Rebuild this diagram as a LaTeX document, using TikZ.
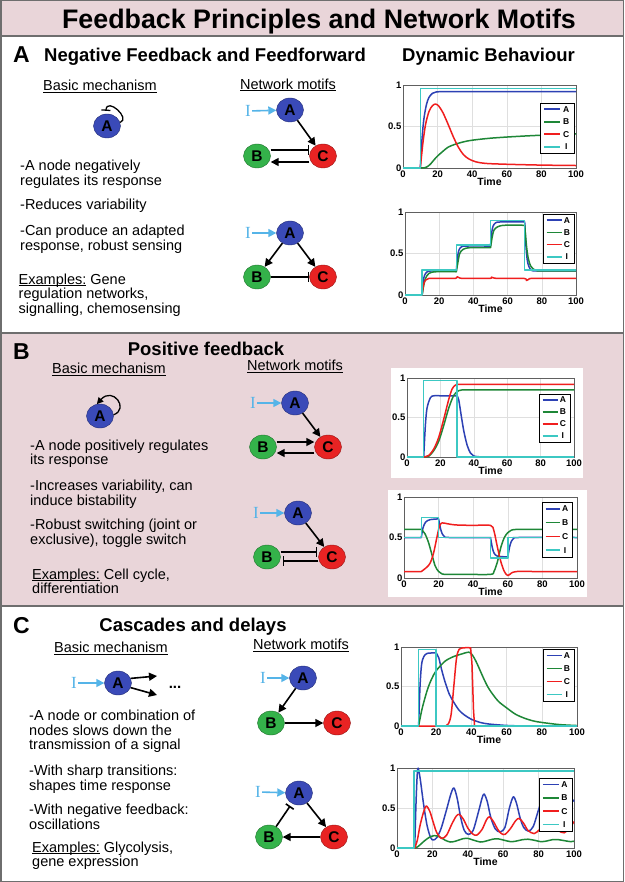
\documentclass[tikz,border=0pt]{standalone}
\usepackage{fontspec}
\setmainfont{Liberation Sans}
\newfontfamily\seriffont{Liberation Serif}
\usetikzlibrary{arrows.meta,shapes.geometric}
\definecolor{pinkbg}{RGB}{233,213,217}
\definecolor{linegray}{RGB}{110,110,110}
\definecolor{nodeA}{RGB}{58,74,184}
\definecolor{nodeB}{RGB}{52,178,74}
\definecolor{nodeC}{RGB}{232,35,35}
\definecolor{inblue}{RGB}{85,180,232}
\definecolor{pA}{RGB}{45,65,180}
\definecolor{pB}{RGB}{30,135,55}
\definecolor{pC}{RGB}{240,30,30}
\definecolor{pI}{RGB}{60,200,195}
\newcommand\myul[1]{\setbox0\hbox{#1}\rlap{\rule[-1.8pt]{\wd0}{0.8pt}}\box0\relax}
\tikzset{
  nd/.style={ellipse, minimum width=27pt, minimum height=24pt, inner sep=0pt,
    font=\fontsize{15.5}{15.5}\selectfont\bfseries, fill=#1, draw=#1!65!black, line width=0.4pt},
  act/.style={line width=1.6pt, -{Triangle[length=8pt,width=8pt]}},
  inh/.style={line width=1.6pt, -{Bar[width=9.5pt]}},
  iarr/.style={line width=1.6pt, inblue, -{Triangle[length=8pt,width=8pt]}},
  ilab/.style={text=inblue, font=\seriffont\fontsize{17}{17}\selectfont, inner sep=1pt},
  body/.style={font=\fontsize{14.5}{14.3}\selectfont, inner sep=0pt},
  hdr/.style={font=\fontsize{18.5}{19}\selectfont\bfseries, inner sep=0pt},
  letr/.style={font=\fontsize{23}{23}\selectfont\bfseries, inner sep=0pt},
  gridc/.style={gray!25, line width=0.4pt},
  framec/.style={gray!75!black, line width=0.6pt},
  ticklab/.style={font=\fontsize{9.5}{10}\selectfont\bfseries, inner sep=1.5pt},
  timelab/.style={font=\fontsize{10.5}{11}\selectfont\bfseries, inner sep=0pt},
  leglab/.style={font=\fontsize{8.5}{8.5}\selectfont\bfseries, inner sep=0pt},
  legbox/.style={draw=black, fill=white, line width=0.5pt},
  cA/.style={pA, line width=1.5pt, line join=round},
  cB/.style={pB, line width=1.5pt, line join=round},
  cC/.style={pC, line width=1.5pt, line join=round},
  cI/.style={pI, line width=1.5pt, line join=round},
}
\newcommand\txtline[4]{\node[body, anchor=base west] (#1) at (#2,#3) {#4};}
\newcommand\dynaxes[1]{%
  \fill[white] (0,0) rectangle (100,1);
  \draw[gridc] (20,0)--(20,1) (40,0)--(40,1) (60,0)--(60,1) (80,0)--(80,1) (0,0.5)--(100,0.5);
  \draw[framec] (0,0) rectangle (100,1);
  \foreach \tk in {0,20,40,60,80,100}{\node[ticklab, anchor=north, yshift=-1pt] (#1x\tk) at (\tk,0) {\tk};}
  \node[ticklab, anchor=east] (#1y0) at (0,0) {0};
  \node[ticklab, anchor=east] (#1y5) at (0,0.5) {0.5};
  \node[ticklab, anchor=east] (#1y1) at (0,1) {1};
  \node[timelab, anchor=north, yshift=-10pt] (#1t) at (50,0) {Time};
}
\newcommand\dynlegend[5]{%
  \draw[legbox] (#2,#3) rectangle ++(#4,#5);
  \foreach \kk/\colr/\lab in {1/pA/A,2/pB/B,3/pC/C,4/pI/I}{
    \pgfmathsetmacro\ly{#3+#5*(\kk-0.5)/4}
    \pgfmathsetmacro\lxa{#2+0.12*#4}
    \pgfmathsetmacro\lxb{#2+0.6*#4}
    \pgfmathsetmacro\lxc{#2+0.77*#4}
    \draw[\colr, line width=1.6pt] (\lxa,\ly) -- (\lxb,\ly);
    \node[leglab] (#1\lab) at (\lxc,\ly) {\lab};
  }
}
\begin{document}
\begin{tikzpicture}[x=1pt,y=-1pt]
\useasboundingbox (0,0) rectangle (624,882);
% backgrounds
\fill[pinkbg] (0,0) rectangle (624,36);
\fill[white] (0,36) rectangle (624,333);
\fill[pinkbg] (0,333) rectangle (624,606);
\fill[white] (0,606) rectangle (624,882);
\fill[white] (391,368) rectangle (583,478);
\fill[white] (388,490) rectangle (587,597);
\draw[linegray, line width=1.5pt] (0.75,0.75) rectangle (623.25,881.25);
\draw[linegray, line width=1.5pt] (0,36) -- (624,36) (0,333) -- (624,333) (0,606) -- (624,606);

% title
\node[font=\fontsize{26.8}{27}\selectfont\bfseries, anchor=base, inner sep=0pt] (title) at (319,29) {Feedback Principles and Network Motifs};

% ================= Section A =================
\node[letr, anchor=base] (secA) at (21.5,63) {A};
\node[hdr, anchor=base west] (hA) at (44,62) {Negative Feedback and Feedforward};
\node[hdr, anchor=base west] (hDyn) at (402,62) {Dynamic Behaviour};
\node[body, anchor=base] (bmA) at (100,91) {\myul{Basic mechanism}};
\node[body, anchor=base] (nmA) at (288,89.5) {\myul{Network motifs}};
\node[nd=nodeA] (nA) at (107,126) {A};
\draw[line width=1.3pt, -{Bar[width=9pt]}] (nA.15) .. controls +(11,-4) and +(1,-14) .. ([yshift=3pt]nA.95);
\txtline{tA1}{20}{171}{-A node negatively}
\txtline{tA2}{20}{185.3}{regulates its response}
\txtline{tA3}{20}{210}{-Reduces variability}
\txtline{tA4}{20}{236}{-Can produce an adapted}
\txtline{tA5}{20}{250.3}{response, robust sensing}
\txtline{tA6}{18.5}{284}{\myul{Examples:} Gene}
\txtline{tA7}{18.5}{298.5}{regulation networks,}
\txtline{tA8}{18.5}{313}{signalling, chemosensing}
% motif A1
\node[ilab] (IA1) at (248,111) {I};
\node[nd=nodeA] (A1) at (290,110) {A};
\node[nd=nodeB] (B1) at (257,156) {B};
\node[nd=nodeC] (C1) at (323,156) {C};
\draw[iarr] (IA1) -- (A1);
\draw[act] (A1) -- (C1);
\draw[inh] ([yshift=6pt]B1.east) -- ([yshift=6pt]C1.west);
\draw[act] ([yshift=-6pt]C1.west) -- ([yshift=-6pt]B1.east);
% motif A2
\node[ilab] (IA2) at (248,233) {I};
\node[nd=nodeA] (A2) at (290,233) {A};
\node[nd=nodeB] (B2) at (257,277) {B};
\node[nd=nodeC] (C2) at (323,277) {C};
\draw[iarr] (IA2) -- (A2);
\draw[act] (A2) -- (B2);
\draw[act] (A2) -- (C2);
\draw[inh] (B2) -- (C2);
% plot A1
\begin{scope}[shift={(403pt,-168pt)}, x=1.73pt, y=83pt]
\dynaxes{pa}
\draw[cA] (0,0) -- plot[smooth, tension=0.5] coordinates {(10,0) (11,0.35) (12,0.58) (13.5,0.76) (15,0.85) (17,0.9) (19,0.915) (22,0.92) (30,0.92)} -- (100,0.92);
\draw[cB] (0,0) -- plot[smooth, tension=0.5] coordinates {(12,0) (14,0.015) (16,0.05) (18,0.1) (20,0.145) (23,0.2) (26,0.25) (30,0.285) (35,0.315) (40,0.335) (50,0.358) (60,0.373) (70,0.385) (80,0.395) (90,0.403) (100,0.41)};
\draw[cC] (0,0) -- plot[smooth, tension=0.5] coordinates {(10,0) (11.5,0.3) (13,0.52) (15,0.68) (17,0.75) (18.7,0.77) (20.5,0.75) (23,0.67) (26,0.53) (29,0.38) (32,0.25) (35,0.16) (38,0.11) (42,0.075) (48,0.055) (60,0.045) (80,0.035) (100,0.03)};
\draw[cI] (0,0) -- (10,0) -- (10,0.96) -- (100,0.96);
\end{scope}
\dynlegend{la}{540}{103}{34}{50}
% plot A2
\begin{scope}[shift={(405pt,-295pt)}, x=1.71pt, y=83pt]
\dynaxes{pb}
\draw[cA] (0,0) -- plot[smooth, tension=0.5] coordinates {(10,0) (10.7,0.17) (11.5,0.24) (13,0.28) (16,0.29) (30,0.29)}
  -- plot[smooth, tension=0.5] coordinates {(30,0.29) (30.7,0.45) (31.5,0.54) (33,0.58) (36,0.59) (50,0.59)}
  -- plot[smooth, tension=0.5] coordinates {(50,0.59) (50.7,0.75) (51.5,0.83) (53,0.87) (56,0.88) (70,0.88)}
  -- plot[smooth, tension=0.5] coordinates {(70,0.88) (70.7,0.6) (71.5,0.42) (72.5,0.34) (74,0.3) (77,0.29) (100,0.29)};
\draw[cB] (0,0) -- plot[smooth, tension=0.5] coordinates {(10,0) (11,0.12) (12,0.2) (14,0.26) (18,0.28) (30,0.28)}
  -- plot[smooth, tension=0.5] coordinates {(30,0.28) (31,0.4) (32,0.5) (34,0.55) (38,0.57) (50,0.57)}
  -- plot[smooth, tension=0.5] coordinates {(50,0.57) (51,0.7) (52,0.78) (54,0.82) (58,0.84) (70,0.84)}
  -- plot[smooth, tension=0.5] coordinates {(70,0.84) (71,0.6) (72,0.45) (73.5,0.35) (76,0.3) (80,0.29) (100,0.29)};
\draw[cC] (0,0) -- plot[smooth, tension=0.5] coordinates {(10,0) (10.8,0.12) (12,0.18) (14,0.2) (20,0.2) (29.5,0.2) (30.5,0.22) (32,0.205) (35,0.2) (49.5,0.2) (50.5,0.215) (52,0.205) (55,0.2) (69.5,0.2) (71,0.175) (72.5,0.19) (75,0.2) (100,0.2)};
\draw[cI] (0,0) -- (10,0) -- (10,0.3) -- (30,0.3) -- (30,0.6) -- (50,0.6) -- (50,0.9) -- (70,0.9) -- (70,0.3) -- (100,0.3);
\end{scope}
\dynlegend{lb}{543}{214}{31}{49}

% ================= Section B =================
\node[letr, anchor=base] (secB) at (21.5,359) {B};
\node[hdr, anchor=base] (hB) at (206,355) {Positive feedback};
\node[body, anchor=base] (bmB) at (109,373.5) {\myul{Basic mechanism}};
\node[body, anchor=base] (nmB) at (295,370.5) {\myul{Network motifs}};
\node[nd=nodeA] (nB) at (100,416) {A};
\draw[line width=1.3pt, -{Triangle[length=6.5pt,width=6.5pt]}] (nB.5) .. controls +(16,-6) and +(16,-18) .. (nB.105);
\txtline{tB1}{30}{450}{-A node positively regulates}
\txtline{tB2}{30}{464.5}{its response}
\txtline{tB3}{30}{490.5}{-Increases variability, can}
\txtline{tB4}{30}{505}{induce bistability}
\txtline{tB5}{30}{529.5}{-Robust switching (joint or}
\txtline{tB6}{30}{544}{exclusive), toggle switch}
\txtline{tB7}{32}{579}{\myul{Examples:} Cell cycle,}
\txtline{tB8}{32}{593.5}{differentiation}
% motif B1
\node[ilab] (IB1) at (253,403) {I};
\node[nd=nodeA] (Ab1) at (295,403) {A};
\node[nd=nodeB] (Bb1) at (263,447) {B};
\node[nd=nodeC] (Cb1) at (328,447) {C};
\draw[iarr] (IB1) -- (Ab1);
\draw[act] (Ab1) -- (Cb1);
\draw[act] ([yshift=5pt]Bb1.east) -- ([yshift=5pt]Cb1.west);
\draw[act] ([yshift=-6pt]Cb1.west) -- ([yshift=-6pt]Bb1.east);
% motif B2
\node[ilab] (IB2) at (256,513) {I};
\node[nd=nodeA] (Ab2) at (298,513) {A};
\node[nd=nodeB] (Bb2) at (267,557) {B};
\node[nd=nodeC] (Cb2) at (332,557) {C};
\draw[iarr] (IB2) -- (Ab2);
\draw[act] (Ab2) -- (Cb2);
\draw[inh] ([yshift=5pt]Bb2.east) -- ([xshift=-1pt,yshift=5pt]Cb2.west);
\draw[inh] ([yshift=-4pt]Cb2.west) -- ([xshift=2pt,yshift=-4pt]Bb2.east);
% plot B1
\begin{scope}[shift={(407pt,-457pt)}, x=1.67pt, y=79pt]
\dynaxes{pc}
\draw[cA] (0,0) -- plot[smooth, tension=0.5] coordinates {(10,0) (11,0.4) (12,0.62) (14,0.75) (16,0.775) (20,0.775) (30,0.775)}
  -- plot[smooth, tension=0.5] coordinates {(30,0.775) (31,0.72) (32.5,0.52) (34,0.33) (36,0.15) (38,0.05) (40,0.012) (45,0)} -- (100,0);
\draw[cB] (0,0) -- plot[smooth, tension=0.5] coordinates {(10,0) (13,0.01) (16,0.08) (19,0.2) (22,0.4) (25,0.62) (28,0.78) (31,0.84) (35,0.85) (45,0.85)} -- (100,0.85);
\draw[cC] (0,0) -- plot[smooth, tension=0.5] coordinates {(10,0) (13,0.02) (16,0.1) (19,0.25) (22,0.48) (25,0.73) (27,0.86) (29,0.91) (32,0.92) (40,0.92)} -- (100,0.92);
\draw[cI] (0,0) -- (10,0) -- (10,0.97) -- (30,0.97) -- (30,0) -- (100,0);
\end{scope}
\dynlegend{lc}{539}{394}{31}{48}
% plot B2
\begin{scope}[shift={(404pt,-578pt)}, x=1.73pt, y=81pt]
\dynaxes{pd}
\draw[cA] (0,0.5) -- plot[smooth, tension=0.5] coordinates {(10,0.5) (11,0.62) (12.5,0.69) (15,0.72) (20,0.73)}
  -- plot[smooth, tension=0.5] coordinates {(20,0.73) (21,0.62) (22,0.55) (23.5,0.51) (26,0.5) (50,0.5)}
  -- plot[smooth, tension=0.5] coordinates {(50,0.5) (51,0.38) (52,0.31) (54,0.27) (60,0.26)}
  -- plot[smooth, tension=0.5] coordinates {(60,0.26) (61,0.38) (62,0.45) (63.5,0.49) (66,0.5) (100,0.5)};
\draw[cB] (0,0.6) -- plot[smooth, tension=0.5] coordinates {(10,0.6) (12,0.55) (14,0.45) (16,0.3) (18,0.15) (20,0.08) (22,0.05) (25,0.045) (35,0.045) (50,0.045) (52,0.08) (54,0.2) (56,0.38) (58,0.5) (60,0.56) (62,0.59) (65,0.6) (75,0.6)} -- (100,0.6);
\draw[cC] (0,0.08) -- plot[smooth, tension=0.5] coordinates {(10,0.08) (13,0.13) (15,0.18) (17,0.3) (19,0.5) (20.5,0.64) (22,0.68) (25,0.67) (30,0.655) (40,0.65) (50,0.65) (52,0.58) (54,0.38) (56,0.2) (58,0.08) (60,0.03) (62,0.06) (65,0.08) (75,0.08)} -- (100,0.08);
\draw[cI] (0,0.5) -- (10,0.5) -- (10,0.75) -- (20,0.75) -- (20,0.5) -- (50,0.5) -- (50,0.25) -- (60,0.25) -- (60,0.5) -- (100,0.5);
\end{scope}
\dynlegend{ld}{542}{502}{30}{55}

% ================= Section C =================
\node[letr, anchor=base] (secC) at (21.5,633) {C};
\node[hdr, anchor=base] (hC) at (193,631) {Cascades and delays};
\node[body, anchor=base] (bmC) at (111,652.5) {\myul{Basic mechanism}};
\node[body, anchor=base] (nmC) at (301,649.5) {\myul{Network motifs}};
\node[ilab] (IC) at (74,683) {I};
\node[nd=nodeA] (Ac) at (118,683) {A};
\coordinate (cx1) at (157,676);
\coordinate (cx2) at (157,695);
\draw[iarr] (IC) -- (Ac);
\draw[act] (Ac.20) -- (cx1);
\draw[act] (Ac.-20) -- (cx2);
\node[font=\fontsize{15}{15}\selectfont\bfseries, anchor=base, inner sep=0pt] (dots) at (175,688) {...};
\txtline{tC1}{29}{720.5}{-A node or combination of}
\txtline{tC2}{29}{735}{nodes slows down the}
\txtline{tC3}{29}{749.5}{transmission of a signal}
\txtline{tC4}{29}{775.5}{-With sharp transitions:}
\txtline{tC5}{29}{790}{shapes time response}
\txtline{tC6}{29}{814.5}{-With negative feedback:}
\txtline{tC7}{29}{829}{oscillations}
\txtline{tC8}{32}{852}{\myul{Examples:} Glycolysis,}
\txtline{tC9}{32}{866.5}{gene expression}
% motif C1
\node[ilab] (IC1) at (263,678) {I};
\node[nd=nodeA] (Ac1) at (303,678) {A};
\node[nd=nodeB] (Bc1) at (271,723) {B};
\node[nd=nodeC] (Cc1) at (337,723) {C};
\draw[iarr] (IC1) -- (Ac1);
\draw[act] (Ac1) -- (Bc1);
\draw[act] (Bc1) -- (Cc1);
% motif C2
\node[ilab] (IC2) at (258,792) {I};
\node[nd=nodeA] (Ac2) at (299,793) {A};
\node[nd=nodeB] (Bc2) at (269,837) {B};
\node[nd=nodeC] (Cc2) at (334,837) {C};
\draw[iarr] (IC2) -- (Ac2);
\draw[inh, shorten >=3pt] (Bc2) -- (Ac2);
\draw[act] (Ac2) -- (Cc2);
\draw[act] (Cc2) -- (Bc2);
% plot C1
\begin{scope}[shift={(401pt,-726pt)}, x=1.76pt, y=79pt]
\dynaxes{pe}
\draw[cA] (0,0) -- plot[smooth, tension=0.5] coordinates {(10,0) (10.8,0.5) (11.7,0.78) (13,0.88) (15,0.92) (20,0.925)}
  -- plot[smooth, tension=0.5] coordinates {(20,0.925) (21.5,0.86) (23,0.72) (25,0.56) (27.5,0.4) (30,0.3) (33,0.2) (36,0.14) (40,0.085) (45,0.045) (50,0.025) (60,0.007) (70,0)} -- (100,0);
\draw[cB] (0,0) -- plot[smooth, tension=0.5] coordinates {(10,0) (12,0.22) (15,0.46) (17.5,0.6) (20,0.7) (25,0.82) (30,0.88) (35,0.915) (38.5,0.935) (40.5,0.9) (43,0.8) (47,0.6) (50,0.47) (55,0.32) (60,0.23) (65,0.15) (70,0.1) (75,0.065) (80,0.045) (90,0.018) (100,0.006)};
\draw[cC] (0,0) -- (25,0) -- plot[smooth, tension=0.5] coordinates {(25,0) (27,0.03) (28.5,0.15) (30,0.5) (31.5,0.85) (33,0.97) (36,0.99) (39.5,0.99)} -- (40.3,0.8) -- (41.2,0.2) -- (41.8,0) -- (100,0);
\draw[cI] (0,0) -- (10,0) -- (10,0.97) -- (20,0.97) -- (20,0) -- (100,0);
\end{scope}
\dynlegend{le}{543}{649}{31}{52}
% plot C2
\begin{scope}[shift={(397pt,-848pt)}, x=1.77pt, y=80pt]
\dynaxes{pf}
\draw[cA] (0,0) -- plot[smooth, tension=0.5] coordinates {(10,0) (10.8,0.6) (11.7,0.99) (13,0.88) (15,0.55) (17,0.28) (19,0.13) (20.5,0.1) (22.5,0.13) (25,0.25) (28,0.48) (30.5,0.68) (32.2,0.75) (34,0.62) (36,0.38) (38,0.22) (40.3,0.17) (43,0.22) (46,0.45) (48,0.62) (49.2,0.675) (51,0.58) (53,0.38) (55.5,0.24) (58.2,0.2) (61,0.26) (63.5,0.5) (65.7,0.64) (67.5,0.56) (69.5,0.38) (71.5,0.26) (74.2,0.21) (77,0.27) (80,0.48) (82.5,0.62) (84.5,0.55) (86.5,0.38) (88.5,0.26) (91.2,0.22) (94,0.28) (97,0.5) (99.2,0.6) (100,0.58)};
\draw[cB] (0,0) -- plot[smooth, tension=0.5] coordinates {(10,0) (12,0.02) (15,0.08) (18,0.13) (21,0.155) (24,0.14) (27,0.1) (30,0.075) (33,0.085) (37,0.115) (40,0.12) (43,0.1) (47,0.075) (50,0.085) (54,0.11) (57,0.115) (60,0.1) (64,0.08) (67,0.085) (71,0.105) (74,0.11) (78,0.095) (81,0.08) (84,0.085) (88,0.105) (91,0.105) (95,0.09) (98,0.08) (100,0.085)};
\draw[cC] (0,0) -- plot[smooth, tension=0.5] coordinates {(10,0) (11.5,0.1) (13,0.28) (15,0.45) (16.5,0.525) (18.5,0.46) (20.5,0.32) (22.5,0.19) (25.2,0.12) (28,0.16) (31,0.3) (33.5,0.4) (35.2,0.42) (37.5,0.36) (40,0.25) (42.5,0.18) (45,0.16) (48,0.23) (50.5,0.35) (52.2,0.39) (54.5,0.33) (57,0.23) (59,0.18) (61,0.17) (64,0.24) (67,0.34) (69,0.37) (71.5,0.31) (74,0.22) (77.4,0.18) (80.5,0.23) (84,0.33) (86,0.36) (88.5,0.3) (91,0.22) (94.5,0.19) (97.5,0.25) (100,0.33)};
\draw[cI] (0,0) -- (9.5,0) -- (9.5,0.96) -- (100,0.96);
\end{scope}
\dynlegend{lf}{539}{778}{33}{53}
\end{tikzpicture}
\end{document}
